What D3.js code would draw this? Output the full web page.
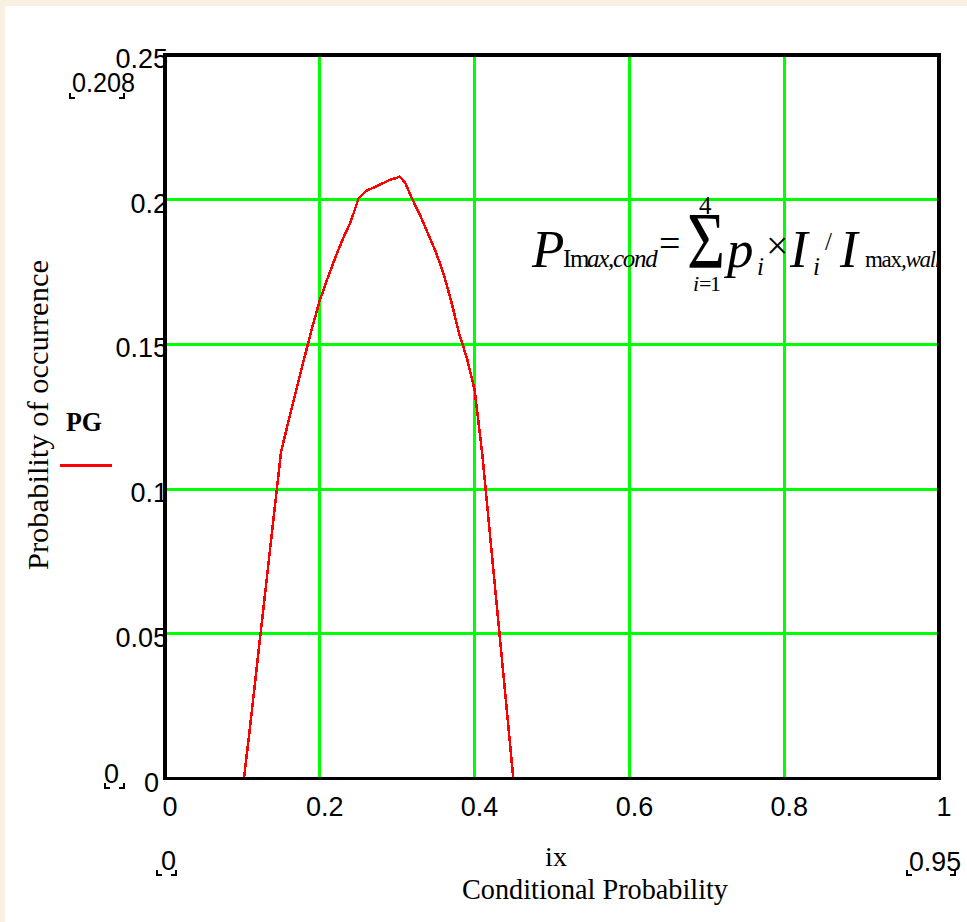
<!DOCTYPE html>
<html>
<head>
<meta charset="utf-8">
<script src="https://cdn.jsdelivr.net/npm/d3@7"></script>
<style>
  body { margin: 0; background: #ffffff; }
  svg { display: block; }
</style>
</head>
<body>
<svg id="chart" width="967" height="922"></svg>
<script>
// Probability of occurrence PG against conditional probability ix
const ixValues = [0, 0.102, 0.11, 0.12, 0.13, 0.14, 0.15, 0.16, 0.17, 0.18, 0.19,
  0.20, 0.21, 0.22, 0.23, 0.24, 0.25, 0.26, 0.27, 0.28, 0.29, 0.30, 0.303,
  0.31, 0.32, 0.33, 0.34, 0.35, 0.36, 0.37, 0.38, 0.39, 0.40, 0.41, 0.42,
  0.43, 0.44, 0.45, 0.95];
const pgValues = [0, 0, 0.0181, 0.0419, 0.0655, 0.0894, 0.1130, 0.1239, 0.1346, 0.1453, 0.1557,
  0.1652, 0.1728, 0.1800, 0.1866, 0.1924, 0.2004, 0.2031, 0.2042, 0.2055, 0.2068, 0.2076, 0.208,
  0.2060, 0.1999, 0.1944, 0.1881, 0.1819, 0.1743, 0.1647, 0.1538, 0.1453, 0.1343, 0.1119, 0.0839,
  0.0561, 0.0282, 0, 0];

const xTicks = [0, 0.2, 0.4, 0.6, 0.8, 1];
const xTickLabels = ["0", "0.2", "0.4", "0.6", "0.8", "1"];
const yTicks = [0, 0.05, 0.1, 0.15, 0.2, 0.25];
const yTickLabels = ["0", "0.05", "0.1", "0.15", "0.2", "0.25"];
const xRangeLabels = ["0", "0.95"];
const yRangeLabels = ["0", "0.208"];

const xTitle = "Conditional Probability";
const xVarName = "ix";
const yTitle = "Probability of occurrence";
const legendName = "PG";

const svg = d3.select("#chart");
const W = 967, H = 922;

// page background with a cream strip along the top and left edges
svg.append("rect").attr("width", W).attr("height", H).attr("fill", "#f9f0e1");
svg.append("rect").attr("x", 5).attr("y", 6).attr("width", W - 5).attr("height", H - 6).attr("fill", "#ffffff");

const x = d3.scaleLinear().domain([0, 1]).range([165, 939]);
const y = d3.scaleLinear().domain([0, 0.25]).range([778.5, 55]);

const GREEN = "#00ff00", RED = "#ff0000";
const sans = "'Liberation Sans', Arial, sans-serif";
const serif = "'Liberation Serif', 'Times New Roman', serif";

// grid lines
const grid = svg.append("g").attr("shape-rendering", "crispEdges");
grid.selectAll("line.gx").data(xTicks.filter(t => t > 0 && t < 1)).join("line")
  .attr("x1", d => x(d)).attr("x2", d => x(d))
  .attr("y1", y(0)).attr("y2", y(0.25))
  .attr("stroke", GREEN).attr("stroke-width", 3);
grid.selectAll("line.gy").data(yTicks.filter(t => t > 0 && t < 0.25)).join("line")
  .attr("y1", d => y(d)).attr("y2", d => y(d))
  .attr("x1", x(0)).attr("x2", x(1))
  .attr("stroke", GREEN).attr("stroke-width", 3);

// formula annotation, set as one text block of positioned pieces
const formula = svg.append("text").attr("font-family", serif).attr("fill", "#000");
const pieces = [
  { t: "P", x: 532, y: 267, s: 53, it: true },
  { t: "Im", x: 563, y: 267, s: 25, ls: -1.3 },
  { t: "ax,cond", x: 587, y: 267, s: 25, it: true, ls: -1.3 },
  { t: "=", x: 659, y: 256, s: 38 },
  { t: "Σ", x: 687, y: 268, s: 80, tl: 38 },
  { t: "4", x: 699, y: 214, s: 25 },
  { t: "i", x: 693, y: 291, s: 22, it: true },
  { t: "=1", x: 699, y: 291, s: 22, ls: -1.5 },
  { t: "p", x: 727, y: 267, s: 53, it: true },
  { t: "i", x: 757, y: 275, s: 25, it: true },
  { t: "×", x: 766, y: 259, s: 40 },
  { t: "I", x: 790, y: 267, s: 53, it: true },
  { t: "i", x: 813, y: 275, s: 25, it: true },
  { t: "/", x: 825, y: 250, s: 25 },
  { t: "I", x: 840, y: 267, s: 53, it: true },
  { t: "max", x: 865, y: 267, s: 23, ls: -1.3 },
  { t: ",wall", x: 901, y: 267, s: 23, it: true, ls: -1.3 }
];
pieces.forEach(p => {
  const ts = formula.append("tspan").attr("x", p.x).attr("y", p.y)
    .attr("font-size", p.s).text(p.t);
  if (p.it) ts.attr("font-style", "italic");
  if (p.ls) ts.attr("letter-spacing", p.ls);
  if (p.tl) ts.attr("textLength", p.tl).attr("lengthAdjust", "spacingAndGlyphs");
});

// PG trace
const series = ixValues.map((v, i) => [v, pgValues[i]]);
svg.append("path").datum(series)
  .attr("d", d3.line().x(d => x(d[0])).y(d => y(d[1])))
  .attr("fill", "none").attr("stroke", RED).attr("stroke-width", 2.5)
  .attr("shape-rendering", "crispEdges");

// plot frame
svg.append("rect").attr("x", x(0)).attr("y", y(0.25))
  .attr("width", x(1) - x(0)).attr("height", y(0) - y(0.25))
  .attr("fill", "none").attr("stroke", "#000").attr("stroke-width", 3.5)
  .attr("shape-rendering", "crispEdges");

// tick labels
const tl = svg.append("g").attr("font-family", sans).attr("font-size", 27).attr("fill", "#000");
tl.selectAll("text.yt").data(yTicks.slice(1)).join("text")
  .attr("x", 168).attr("y", d => y(d) + 13).attr("text-anchor", "end")
  .text((d, i) => yTickLabels[i + 1]);
tl.append("text").attr("x", 159).attr("y", y(0) + 13).attr("text-anchor", "end").text(yTickLabels[0]);
tl.selectAll("text.xt").data(xTicks).join("text")
  .attr("x", d => x(d) + 5).attr("y", 816).attr("text-anchor", "middle")
  .text((d, i) => xTickLabels[i]);

// range labels with corner marks
function corners(x0, x1, yb) {
  const p = `M${x0},${yb - 5}V${yb}H${x0 + 5}M${x1 - 5},${yb}H${x1}V${yb - 5}`;
  svg.append("path").attr("d", p).attr("fill", "none").attr("stroke", "#000")
    .attr("stroke-width", 2).attr("shape-rendering", "crispEdges");
}
tl.append("text").attr("x", 72).attr("y", 92).attr("textLength", 63)
  .attr("lengthAdjust", "spacingAndGlyphs").text(yRangeLabels[1]);
corners(70, 124, 98);
tl.append("text").attr("x", 104).attr("y", 783).text(yRangeLabels[0]);
corners(105, 124, 788);
tl.append("text").attr("x", 161).attr("y", 870).text(xRangeLabels[0]);
corners(157, 176, 875);
tl.append("text").attr("x", 909).attr("y", 871).attr("textLength", 52)
  .attr("lengthAdjust", "spacingAndGlyphs").text(xRangeLabels[1]);
corners(907, 955, 875);

// axis titles
svg.append("text").attr("x", 556).attr("y", 866).attr("text-anchor", "middle")
  .attr("font-family", serif).attr("font-size", 28).text(xVarName);
svg.append("text").attr("x", 595).attr("y", 899).attr("text-anchor", "middle")
  .attr("font-family", serif).attr("font-size", 29)
  .attr("textLength", 266).attr("lengthAdjust", "spacingAndGlyphs").text(xTitle);
svg.append("text").attr("transform", "translate(48,415) rotate(-90)")
  .attr("text-anchor", "middle").attr("font-family", serif).attr("font-size", 30)
  .attr("textLength", 310).attr("lengthAdjust", "spacingAndGlyphs").text(yTitle);

// legend
svg.append("text").attr("x", 66).attr("y", 431).attr("font-family", serif)
  .attr("font-weight", "bold").attr("font-size", 28)
  .attr("textLength", 36).attr("lengthAdjust", "spacingAndGlyphs").text(legendName);
svg.append("line").attr("x1", 60).attr("x2", 112).attr("y1", 465).attr("y2", 465)
  .attr("stroke", RED).attr("stroke-width", 3).attr("shape-rendering", "crispEdges");
</script>
</body>
</html>
